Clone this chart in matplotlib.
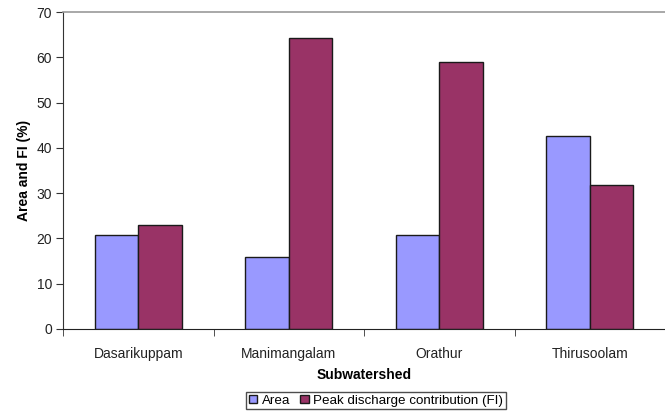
import matplotlib
matplotlib.use("Agg")
import matplotlib.pyplot as plt
import numpy as np

categories = ["Dasarikuppam", "Manimangalam", "Orathur", "Thirusoolam"]
area = [20.7, 15.9, 20.7, 42.7]
fi = [23.0, 64.2, 59.0, 31.9]
series_names = ["Area", "Peak discharge contribution (FI)"]
yticks = [0, 10, 20, 30, 40, 50, 60, 70]

plt.rcParams['font.family'] = ['Liberation Sans', 'DejaVu Sans']

fig = plt.figure(figsize=(6.65, 4.12), dpi=100)
ax = fig.add_axes([63/665, 1-329/412, 602/665, 317/412])

x = np.arange(len(categories))
w = 0.29
b1 = ax.bar(x - w/2, area, width=w, color='#9999FF', edgecolor='#1a1a1a', linewidth=1.0, label=series_names[0])
b2 = ax.bar(x + w/2, fi, width=w, color='#993366', edgecolor='#1a1a1a', linewidth=1.0, label=series_names[1])

ax.set_xlim(-0.5, len(categories) - 0.5)
ax.set_ylim(0, 70)
ax.set_yticks(yticks)
ax.set_yticklabels([str(t) for t in yticks], fontsize=10, color='#222222')
ax.set_xticks(x)
ax.set_xticklabels(categories, fontsize=10, color='#222222')
ax.tick_params(axis='x', length=0, pad=13)
ax.set_xticks(np.arange(len(categories) + 1) - 0.5, minor=True)
ax.tick_params(axis='x', which='minor', length=5, direction='out', color='#333333')
ax.tick_params(axis='y', length=5, direction='out', color='#333333', pad=3)

ax.spines['right'].set_visible(False)
ax.spines['top'].set_color('#999999')
ax.spines['top'].set_linewidth(1.2)
ax.spines['left'].set_color('#333333')
ax.spines['bottom'].set_color('#222222')

ax.set_ylabel("Area and FI (%)", fontsize=10, fontweight='bold', labelpad=4)
ax.set_xlabel("Subwatershed", fontsize=10, fontweight='bold', labelpad=5)

leg = fig.legend(handles=[b1, b2], labels=series_names, loc='lower center',
                 bbox_to_anchor=(376/665, 0.0), ncol=2, fontsize=9.6,
                 frameon=True, fancybox=False, handlelength=0.65, handleheight=0.65,
                 handletextpad=0.35, columnspacing=0.7, borderpad=0.2,
                 borderaxespad=0.2)
leg.get_frame().set_edgecolor('#222222')
leg.get_frame().set_linewidth(1.0)

fig.savefig("out.png", dpi=100)
